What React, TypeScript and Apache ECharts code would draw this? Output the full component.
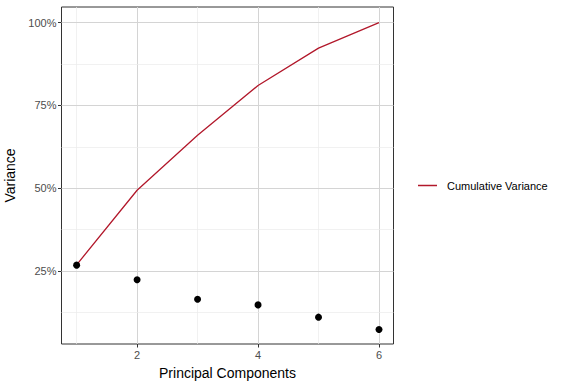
import React, { useEffect, useRef } from "react";
import * as echarts from "echarts";

const components = [1, 2, 3, 4, 5, 6];
const individualVariance = [26.8, 22.4, 16.5, 14.8, 11.1, 7.4];
const cumulativeVariance = [26.9, 49.4, 66.0, 81.0, 92.3, 100];
const xTicks = [2, 4, 6];
const xMinorGrid = [1, 3, 5];
const yTicks = [25, 50, 75, 100];
const yMinorGrid = [12.5, 37.5, 62.5, 87.5];
const legendLabel = "Cumulative Variance";

const RED = "#b2182b";
const FONT = "'Liberation Sans', Arial, Helvetica, sans-serif";

export default function App() {
  const ref = useRef<HTMLDivElement>(null);
  useEffect(() => {
    document.body.style.margin = "0";
    if (!ref.current) return;
    const chart = echarts.init(ref.current, undefined, { renderer: "svg" });
    const gridLine = (color: string, width: number) => ({
      lineStyle: { color, width, type: "solid" },
    });
    const markLineData = [
      ...xTicks.map((v) => ({ xAxis: v, ...gridLine("#d4d4d4", 1) })),
      ...xMinorGrid.map((v) => ({ xAxis: v, ...gridLine("#ebebeb", 0.7) })),
      ...yTicks.map((v) => ({ yAxis: v, ...gridLine("#d4d4d4", 1) })),
      ...yMinorGrid.map((v) => ({ yAxis: v, ...gridLine("#ebebeb", 0.7) })),
    ];
    chart.setOption({
      animation: false,
      textStyle: { fontFamily: FONT },
      grid: {
        left: 61.5,
        top: 7,
        width: 332,
        height: 337,
        containLabel: false,
        outerBoundsMode: "none",
        show: true,
        borderColor: "#333333",
        borderWidth: 1,
        backgroundColor: "#ffffff",
      },
      legend: {
        data: [legendLabel],
        left: 418,
        top: 180,
        padding: 0,
        icon: "rect",
        itemWidth: 19,
        itemHeight: 1.5,
        itemGap: 0,
        textStyle: { fontFamily: FONT, fontSize: 11, color: "#000000", padding: [0, 0, 0, 5] },
      },
      xAxis: {
        type: "value",
        min: 0.75,
        max: 6.24,
        name: "Principal Components",
        nameLocation: "middle",
        nameGap: 22,
        nameTextStyle: { fontFamily: FONT, fontSize: 14, color: "#000000" },
        axisLine: { show: false },
        axisTick: { show: true, customValues: xTicks, length: 3.5, lineStyle: { color: "#333333" } },
        axisLabel: { customValues: xTicks, fontFamily: FONT, fontSize: 11, color: "#4d4d4d", margin: 5 },
        splitLine: { show: false },
      },
      yAxis: {
        type: "value",
        min: 3,
        max: 104.7,
        name: "Variance",
        nameLocation: "middle",
        nameGap: 37,
        nameRotate: 90,
        nameTextStyle: { fontFamily: FONT, fontSize: 14, color: "#000000" },
        axisLine: { show: false },
        axisTick: { show: true, customValues: yTicks, length: 3.5, lineStyle: { color: "#333333" } },
        axisLabel: { customValues: yTicks, formatter: "{value}%", fontFamily: FONT, fontSize: 11, color: "#4d4d4d", margin: 5 },
        splitLine: { show: false },
      },
      series: [
        {
          name: "grid",
          type: "line",
          data: [],
          silent: true,
          z: 1,
          markLine: {
            silent: true,
            symbol: "none",
            z: 1,
            label: { show: false },
            data: markLineData,
            animation: false,
          },
        },
        {
          name: legendLabel,
          type: "line",
          data: components.map((c, i) => [c, cumulativeVariance[i]]),
          symbol: "none",
          lineStyle: { color: RED, width: 1.3 },
          itemStyle: { color: RED },
          z: 3,
        },
        {
          name: "Variance",
          type: "scatter",
          data: components.map((c, i) => [c, individualVariance[i]]),
          symbolSize: 7,
          itemStyle: { color: "#000000", opacity: 1 },
          z: 4,
        },
      ],
    });
    return () => chart.dispose();
  }, []);
  return <div ref={ref} style={{ width: 569, height: 387 }} />;
}
